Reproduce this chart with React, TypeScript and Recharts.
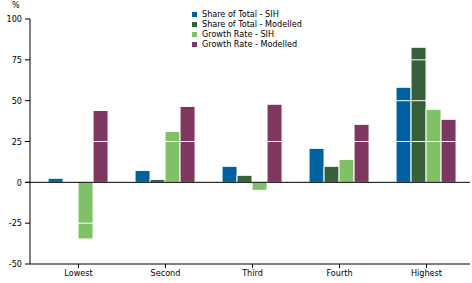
import { Bar, BarChart, ReferenceLine, XAxis, YAxis } from 'recharts';

const categories = ['Lowest', 'Second', 'Third', 'Fourth', 'Highest'];
const shareSih = [2.5, 7.3, 9.8, 20.8, 58.2];
const shareModelled = [0, 1.8, 4.3, 9.8, 82.7];
const growthSih = [-34.7, 31.2, -4.9, 14, 44.7];
const growthModelled = [44, 46.5, 47.8, 35.5, 38.6];
const yTicks = [-50, -25, 0, 25, 50, 75, 100];
const gridLines = [-25, 25, 50, 75, 100];

const series = [
  { key: 'shareSih', name: 'Share of Total - SIH', color: '#0061a0' },
  { key: 'shareModelled', name: 'Share of Total - Modelled', color: '#366039' },
  { key: 'growthSih', name: 'Growth Rate - SIH', color: '#80c168' },
  { key: 'growthModelled', name: 'Growth Rate - Modelled', color: '#7f375f' },
];

const data = categories.map((name, i) => ({
  name,
  shareSih: shareSih[i],
  shareModelled: shareModelled[i],
  growthSih: growthSih[i],
  growthModelled: growthModelled[i],
}));

const font = '"Liberation Sans Narrow", "DejaVu Sans Condensed", "Arial Narrow", sans-serif';

// legend drawn as plain html, recharts Legend steals plot height
const LegendBox = () => (
  <div style={{ position: 'absolute', left: 192, top: 9, fontSize: 9, color: '#000', lineHeight: '10px' }}>
    {series.map((s) => (
      <div key={s.key} style={{ display: 'flex', alignItems: 'center', height: 10 }}>
        <span style={{ width: 5, height: 5, background: s.color, marginRight: 5, display: 'inline-block' }} />
        <span>{s.name}</span>
      </div>
    ))}
  </div>
);

// zero line should run the full plot width, past the axis padding
const ZeroLine = (props: any) => (
  <line x1={props.x1 - 5} y1={props.y1} x2={props.x2} y2={props.y2} stroke="#000" strokeWidth={1} />
);

export default function App() {
  return (
    <div style={{ position: 'absolute', left: 0, top: 0, width: 472, height: 283, background: '#fff', fontFamily: font }}>
      <BarChart
        width={472}
        height={283}
        data={data}
        margin={{ top: 19, right: 2, bottom: 0, left: 0 }}
        barCategoryGap="15%"
        barGap={0}
      >
        <XAxis
          dataKey="name"
          padding={{ left: 5, right: 0 }}
          axisLine={{ stroke: '#000' }}
          tickLine={{ stroke: '#000' }}
          tickSize={4}
          tickMargin={2}
          tick={{ fill: '#000', fontSize: 9, fontFamily: font }}
          height={19}
        />
        <YAxis
          domain={[-50, 100]}
          ticks={yTicks}
          width={30}
          axisLine={{ stroke: '#000' }}
          tickLine={{ stroke: '#000' }}
          tickSize={5}
          tickMargin={3}
          tick={{ fill: '#000', fontSize: 9, fontFamily: font }}
          interval={0}
        />
        {series.map((s) => (
          <Bar
            key={s.key}
            dataKey={s.key}
            name={s.name}
            fill={s.color}
            stroke="#fff"
            strokeWidth={1}
            isAnimationActive={false}
          />
        ))}
        {gridLines.map((v) => (
          <ReferenceLine key={v} y={v} stroke="#fff" strokeWidth={1} />
        ))}
        <ReferenceLine y={0} shape={<ZeroLine />} />
      </BarChart>
      <div style={{ position: 'absolute', left: 12, top: 0, fontSize: 9 }}>%</div>
      <LegendBox />
    </div>
  );
}
